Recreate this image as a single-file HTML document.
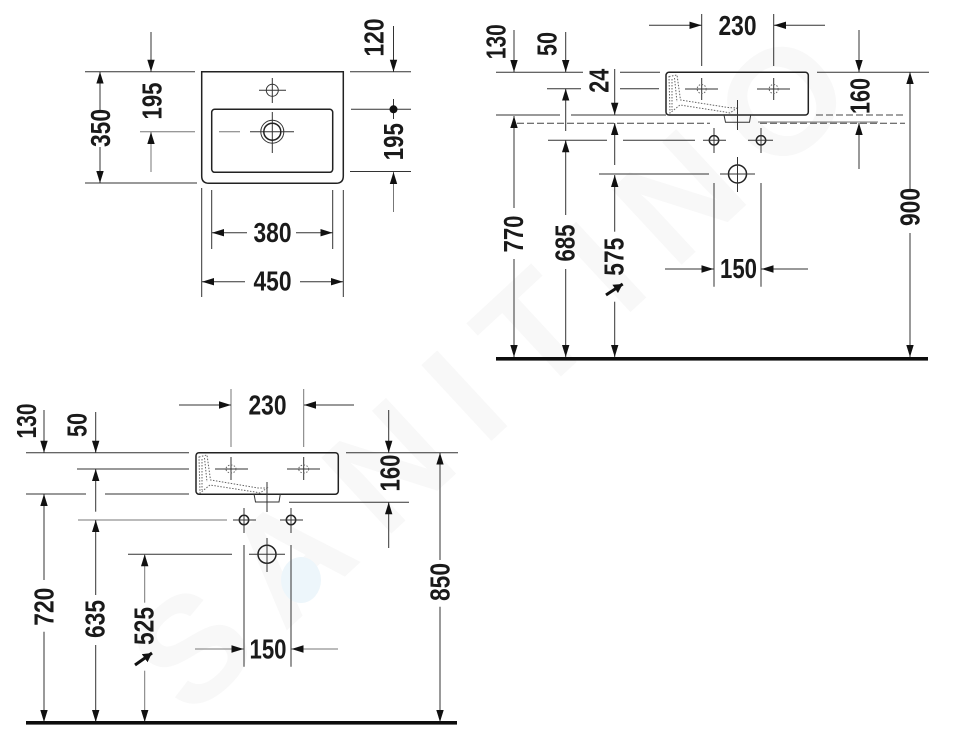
<!DOCTYPE html>
<html><head><meta charset="utf-8"><style>
html,body{margin:0;padding:0;background:#fff}
svg{display:block}
.t{font-family:"Liberation Sans",Arial,sans-serif;font-weight:bold;font-size:27.5px;fill:#1a1a1a;text-anchor:middle}
.l{stroke:#333;stroke-width:1;fill:none}
.g{stroke:#777;stroke-width:1;fill:none}
.b{stroke:#222;stroke-width:1.5;fill:none}
.d{stroke:#666;stroke-width:1;fill:none;stroke-dasharray:1.5 1.5}
.k{stroke:#444;stroke-width:1;fill:none;stroke-dasharray:7 3}
</style></head><body>
<svg width="960" height="735" viewBox="0 0 960 735" xmlns="http://www.w3.org/2000/svg">
<defs>
<marker id="a" markerUnits="userSpaceOnUse" markerWidth="14" markerHeight="9" refX="12" refY="4" orient="auto"><path d="M0,0.3L12,4L0,7.7Z" fill="#111"/></marker>
<marker id="s" markerUnits="userSpaceOnUse" markerWidth="11" markerHeight="11" refX="9" refY="5" orient="auto"><path d="M0,0L9,5L0,10Z" fill="#111"/></marker>
</defs>

<!-- watermark -->
<text transform="translate(190,720) rotate(-42.8)" x="0" y="0" textLength="913" lengthAdjust="spacing" style="font-family:'Liberation Sans',sans-serif;font-weight:bold;font-size:150px;fill:#f8f8f8">SANITINO</text>
<ellipse cx="301" cy="580" rx="20" ry="23" fill="#edf6fb"/>

<!-- TOP VIEW -->
<path class="b" d="M201.7,71.7H343.3V176Q343.3,183.3 336,183.3H209Q201.7,183.3 201.7,176Z"/>
<rect class="b" x="211.7" y="109.3" width="121" height="63" rx="3"/>
<circle class="l" cx="272.3" cy="90.3" r="6"/>
<path class="l" d="M259,90.3H286M272.3,78V103M250,131.7H294M272.3,112V153"/>
<circle class="l" cx="272.3" cy="131.7" r="11.5"/>
<circle class="b" cx="272.3" cy="131.7" r="8.5"/>
<path class="g" d="M219,131.7H240M140,131.7H195"/>
<path class="l" d="M85,71.7H195M85,183H197M350,71.7H411M351,109.3H411M350,171.5H411M393.5,99V119"/>
<circle cx="393.5" cy="109.3" r="4" fill="#111"/>
<line class="l" x1="151" y1="32" x2="151" y2="71.7" marker-end="url(#a)"/>
<line class="g" x1="151" y1="172" x2="151" y2="132" marker-end="url(#a)"/>
<line class="l" x1="393.5" y1="26" x2="393.5" y2="71.7" marker-end="url(#a)"/>
<line class="g" x1="393.5" y1="212" x2="393.5" y2="172" marker-end="url(#a)"/>
<line class="l" x1="100" y1="110" x2="100" y2="71.7" marker-end="url(#a)"/>
<line class="l" x1="100" y1="147" x2="100" y2="183" marker-end="url(#a)"/>
<path class="l" d="M201.7,188V297M343.3,190V297M211.7,190V249M332.7,190V249"/>
<line class="l" x1="247" y1="232.7" x2="212" y2="232.7" marker-end="url(#a)"/>
<line class="l" x1="296" y1="232.7" x2="332.5" y2="232.7" marker-end="url(#a)"/>
<line class="l" x1="245" y1="281.7" x2="202" y2="281.7" marker-end="url(#a)"/>
<line class="l" x1="300" y1="281.7" x2="343" y2="281.7" marker-end="url(#a)"/>
<text class="t" x="272.5" y="242" textLength="38" lengthAdjust="spacingAndGlyphs">380</text>
<text class="t" x="272.5" y="290.5" textLength="38" lengthAdjust="spacingAndGlyphs">450</text>
<text class="t" transform="translate(100.5,128) rotate(-90)" y="9.5" textLength="38" lengthAdjust="spacingAndGlyphs">350</text>
<text class="t" transform="translate(152,101) rotate(-90)" y="9.5" textLength="37" lengthAdjust="spacingAndGlyphs">195</text>
<text class="t" transform="translate(374,37.5) rotate(-90)" y="9.5" textLength="38" lengthAdjust="spacingAndGlyphs">120</text>
<text class="t" transform="translate(393.5,141.7) rotate(-90)" y="9.5" textLength="37" lengthAdjust="spacingAndGlyphs">195</text>

<!-- RIGHT ELEVATION -->
<rect class="b" x="666" y="72.3" width="142.3" height="42.7" rx="3"/>
<path class="l" d="M724,115L725.5,122.3H749.5L750.7,115"/>
<path class="d" d="M669,76.5L677,75L680.5,100L728,107.5L737,108L730,113L725,112L680,105L670,113Z"/>
<path class="d" d="M672,79V110M674.5,78L677,102"/>
<path class="l" d="M685,89H718M701.7,78V100M757,89H790M773.7,78V100M737.5,100V130"/>
<circle class="d" cx="701.7" cy="89" r="4.5"/><circle class="d" cx="773.7" cy="89" r="4.5"/>
<path class="l" d="M701.7,14V66M773.7,14V66"/>
<line class="l" x1="649" y1="25.3" x2="701.5" y2="25.3" marker-end="url(#a)"/>
<line class="l" x1="825" y1="25.3" x2="774" y2="25.3" marker-end="url(#a)"/>
<text class="t" x="737.5" y="35" textLength="38" lengthAdjust="spacingAndGlyphs">230</text>
<path class="l" d="M496,72.3H583M620,72.3H660M817,72.3H929M547,88.7H581M620,88.7H659M548,140.3H607M623,140.3H695M599,174H709"/>
<path class="l" d="M496,115H560M571,115H666"/>
<path class="k" d="M816,115H905M517,123.3H710M760,123.3H905"/>
<path class="g" d="M758,122H878" stroke-width="1.5"/>
<circle class="b" cx="714" cy="140.3" r="4.7"/><circle class="b" cx="761" cy="140.3" r="4.7"/>
<path class="l" d="M703,140.3H726M714,128V153M748,140.3H773M761,128V153"/>
<circle class="b" cx="737.5" cy="174" r="9"/>
<path class="l" d="M720,174H755M737.5,157V192M714,183V286.7M761,183V286.7"/>
<line class="l" x1="514" y1="30" x2="514" y2="72" marker-end="url(#a)"/>
<line class="l" x1="565.7" y1="32" x2="565.7" y2="72" marker-end="url(#a)"/>
<line class="l" x1="614.7" y1="69" x2="614.7" y2="114.7" marker-end="url(#a)"/>
<line class="l" x1="565.7" y1="131" x2="565.7" y2="88.7" marker-end="url(#a)"/>
<line class="l" x1="565.7" y1="215" x2="565.7" y2="140.3" marker-end="url(#a)"/>
<line class="l" x1="565.7" y1="269" x2="565.7" y2="357" marker-end="url(#a)"/>
<line class="l" x1="514" y1="208" x2="514" y2="116" marker-end="url(#a)"/>
<line class="l" x1="514" y1="259" x2="514" y2="357" marker-end="url(#a)"/>
<line class="l" x1="614.7" y1="165" x2="614.7" y2="123" marker-end="url(#a)"/>
<line class="l" x1="614.7" y1="231.7" x2="614.7" y2="175" marker-end="url(#a)"/>
<line class="l" x1="614.7" y1="301.7" x2="614.7" y2="357" marker-end="url(#a)"/>
<line class="l" x1="910" y1="190" x2="910" y2="72" marker-end="url(#a)"/>
<line class="l" x1="910" y1="233" x2="910" y2="357" marker-end="url(#a)"/>
<line class="l" x1="859" y1="30" x2="859" y2="72" marker-end="url(#a)"/>
<line class="l" x1="859" y1="169" x2="859" y2="123" marker-end="url(#a)"/>
<line class="l" x1="665" y1="269" x2="713.5" y2="269" marker-end="url(#a)"/>
<line class="l" x1="808" y1="269" x2="761.5" y2="269" marker-end="url(#a)"/>
<line x1="606" y1="295" x2="622.7" y2="284" stroke="#111" stroke-width="3" marker-end="url(#s)"/>
<text class="t" x="738.5" y="278" textLength="37" lengthAdjust="spacingAndGlyphs">150</text>
<text class="t" transform="translate(496,41.7) rotate(-90)" y="9.5" textLength="35" lengthAdjust="spacingAndGlyphs">130</text>
<text class="t" transform="translate(547,44) rotate(-90)" y="9.5" textLength="24" lengthAdjust="spacingAndGlyphs">50</text>
<text class="t" transform="translate(599,80.7) rotate(-90)" y="9.5" textLength="24" lengthAdjust="spacingAndGlyphs">24</text>
<text class="t" transform="translate(513.5,234) rotate(-90)" y="9.5" textLength="37" lengthAdjust="spacingAndGlyphs">770</text>
<text class="t" transform="translate(565,243) rotate(-90)" y="9.5" textLength="37" lengthAdjust="spacingAndGlyphs">685</text>
<text class="t" transform="translate(614,256.7) rotate(-90)" y="9.5" textLength="38" lengthAdjust="spacingAndGlyphs">575</text>
<text class="t" transform="translate(910,207) rotate(-90)" y="9.5" textLength="38" lengthAdjust="spacingAndGlyphs">900</text>
<text class="t" transform="translate(860,96) rotate(-90)" y="9.5" textLength="36" lengthAdjust="spacingAndGlyphs">160</text>
<rect x="496" y="357" width="432" height="3.6" fill="#0d0d0d"/>

<!-- LOWER ELEVATION -->
<rect class="b" x="196" y="452.7" width="142.3" height="41.5" rx="3"/>
<path class="l" d="M254,494L255.5,502H279L280.3,494"/>
<path class="d" d="M199,457L207,455L210.500,480L258,488L267,488L260,493L255,492L210,485L200,493Z"/>
<path class="d" d="M202,459V490M204.5,458L207,482"/>
<path class="l" d="M215,469H248M231,457V480M287,469H320M303.7,457V480M267,482V512"/>
<ellipse class="d" cx="231" cy="469" rx="5" ry="4"/><ellipse class="d" cx="303.7" cy="469" rx="5" ry="4"/>
<path class="g" d="M231,389V447M303.7,389V447"/>
<line class="l" x1="179" y1="405" x2="231" y2="405" marker-end="url(#a)"/>
<line class="l" x1="354" y1="405" x2="304" y2="405" marker-end="url(#a)"/>
<text class="t" x="267.5" y="414.500" textLength="38" lengthAdjust="spacingAndGlyphs">230</text>
<path class="l" d="M26,452.7H189M346,452.7H458M77,469H189M26,494H86M105,494H189M289,502.3H409M128,554.3H232"/>
<path class="g" d="M78,520H227"/>
<circle class="b" cx="244" cy="520" r="4.7"/><circle class="b" cx="291" cy="520" r="4.7"/>
<path class="l" d="M233,520H256M244,508V533M280,520H303M291,508V533"/>
<circle class="b" cx="267" cy="554.3" r="9"/>
<path class="l" d="M249,554.3H285M267,538V572M244,545V666.7M291,545V666.7"/>
<line class="l" x1="44" y1="410" x2="44" y2="452.7" marker-end="url(#a)"/>
<line class="l" x1="95.7" y1="412" x2="95.7" y2="452.7" marker-end="url(#a)"/>
<line class="l" x1="44" y1="580" x2="44" y2="494" marker-end="url(#a)"/>
<line class="l" x1="44" y1="631.7" x2="44" y2="722" marker-end="url(#a)"/>
<line class="l" x1="95.7" y1="511.7" x2="95.7" y2="469" marker-end="url(#a)"/>
<line class="l" x1="95.7" y1="595" x2="95.7" y2="520" marker-end="url(#a)"/>
<line class="l" x1="95.7" y1="645" x2="95.7" y2="722" marker-end="url(#a)"/>
<line class="g" x1="144.7" y1="602.7" x2="144.7" y2="554.3" marker-end="url(#a)"/>
<line class="g" x1="144.7" y1="670.7" x2="144.7" y2="722" marker-end="url(#a)"/>
<line class="l" x1="388.7" y1="410" x2="388.7" y2="452.7" marker-end="url(#a)"/>
<line class="l" x1="388.7" y1="548" x2="388.7" y2="502.3" marker-end="url(#a)"/>
<line class="l" x1="440" y1="560" x2="440" y2="452.7" marker-end="url(#a)"/>
<line class="l" x1="440" y1="606.7" x2="440" y2="722" marker-end="url(#a)"/>
<line class="g" x1="195" y1="649" x2="243.5" y2="649" marker-end="url(#a)"/>
<line class="g" x1="338" y1="649" x2="291.5" y2="649" marker-end="url(#a)"/>
<line x1="135" y1="665" x2="152" y2="653" stroke="#111" stroke-width="3" marker-end="url(#s)"/>
<text class="t" x="268" y="658.500" textLength="37" lengthAdjust="spacingAndGlyphs">150</text>
<text class="t" transform="translate(26.7,421) rotate(-90)" y="9.5" textLength="35" lengthAdjust="spacingAndGlyphs">130</text>
<text class="t" transform="translate(77,425) rotate(-90)" y="9.5" textLength="24" lengthAdjust="spacingAndGlyphs">50</text>
<text class="t" transform="translate(44,606.7) rotate(-90)" y="9.5" textLength="38" lengthAdjust="spacingAndGlyphs">720</text>
<text class="t" transform="translate(95,619) rotate(-90)" y="9.5" textLength="38" lengthAdjust="spacingAndGlyphs">635</text>
<text class="t" transform="translate(144,626) rotate(-90)" y="9.5" textLength="38" lengthAdjust="spacingAndGlyphs">525</text>
<text class="t" transform="translate(390,473) rotate(-90)" y="9.5" textLength="37" lengthAdjust="spacingAndGlyphs">160</text>
<text class="t" transform="translate(440,582) rotate(-90)" y="9.5" textLength="38" lengthAdjust="spacingAndGlyphs">850</text>
<rect x="26" y="721" width="431" height="3.6" fill="#0d0d0d"/>
</svg>
</body></html>
